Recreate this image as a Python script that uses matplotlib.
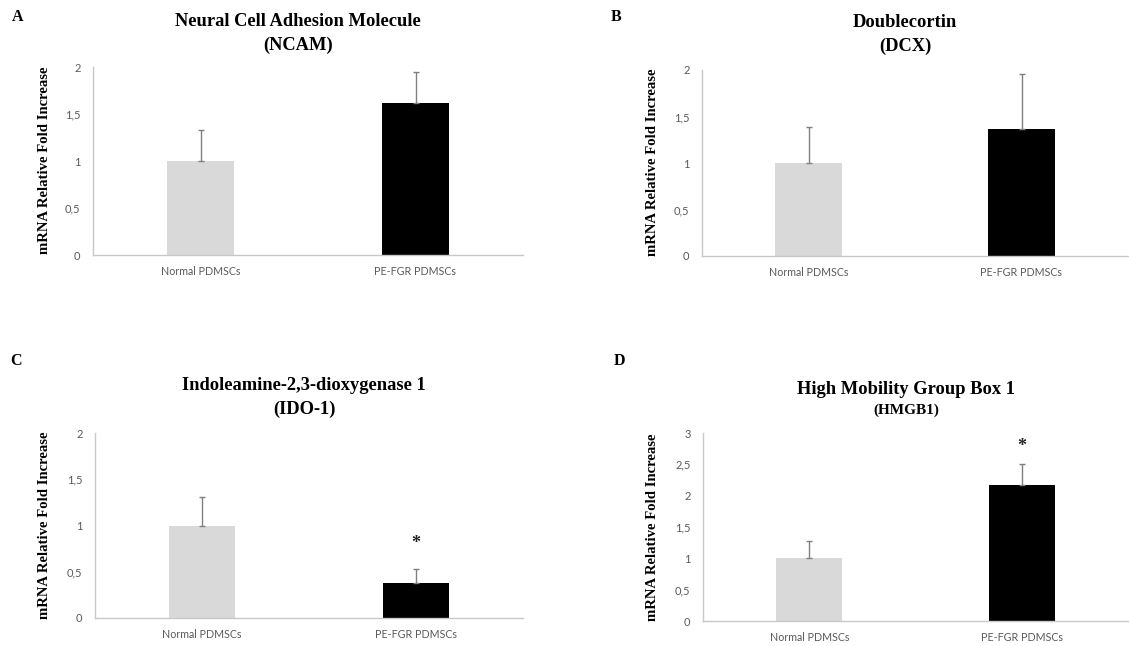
import numpy as np
import matplotlib
matplotlib.use("Agg")
import matplotlib.pyplot as plt
from matplotlib.ticker import FuncFormatter

# data
groups = ["Normal PDMSCs", "PE-FGR PDMSCs"]
ncam_mean = [1.0, 1.62]
ncam_err = [0.33, 0.33]
dcx_mean = [1.0, 1.37]
dcx_err = [0.39, 0.59]
ido_mean = [1.0, 0.38]
ido_err = [0.31, 0.15]
hmgb_mean = [1.0, 2.17]
hmgb_err = [0.28, 0.33]
ido_star = [None, 0.81]
hmgb_star = [None, 2.78]

serif = "Liberation Serif"
sans = "Lato"
W, H = 1129, 646

fig = plt.figure(figsize=(W / 100, H / 100), dpi=100)


def px(x, y):
    return x / W, 1 - y / H


def panel(rect, means, errs, ymax, stars=None):
    ax = fig.add_axes(rect)
    x = np.arange(len(groups))
    ax.bar(x, means, width=0.31, color=["#d9d9d9", "#000000"], zorder=2)
    ax.errorbar(x, means, yerr=[np.zeros(len(errs)), errs], fmt="none",
                ecolor="#808080", elinewidth=1, capsize=2.5, capthick=1, zorder=3)
    if stars is not None:
        for xi, s in zip(x, stars):
            if s is not None:
                ax.text(xi, s, "*", ha="center", va="center", fontsize=13,
                        fontweight="bold", family=serif, color="#222222")
    ax.set_xlim(-0.5, 1.5)
    ax.set_ylim(0, ymax)
    ax.set_yticks(np.arange(0, ymax + 0.01, 0.5))
    ax.yaxis.set_major_formatter(FuncFormatter(lambda v, p: f"{v:g}".replace(".", ",")))
    ax.set_xticks(x)
    ax.set_xticklabels(groups)
    for sp in ["top", "right"]:
        ax.spines[sp].set_visible(False)
    for sp in ["left", "bottom"]:
        ax.spines[sp].set_color("#c8c8c8")
        ax.spines[sp].set_linewidth(1)
    ax.tick_params(length=0, colors="#595959", labelsize=8)
    ax.tick_params(axis="y", pad=9)
    ax.tick_params(axis="x", pad=8, labelsize=7.7)
    for lab in ax.get_xticklabels() + ax.get_yticklabels():
        lab.set_family(sans)
    return ax


axA = panel([93 / W, 1 - 255 / H, 430 / W, 188 / H], ncam_mean, ncam_err, 2)
axB = panel([702 / W, 1 - 256 / H, 426 / W, 186 / H], dcx_mean, dcx_err, 2)
axC = panel([95 / W, 1 - 618 / H, 428 / W, 185 / H], ido_mean, ido_err, 2, ido_star)
axD = panel([703 / W, 1 - 621 / H, 425 / W, 188 / H], hmgb_mean, hmgb_err, 3, hmgb_star)

# titles (two lines each)
titles = [
    (298, 21, "Neural Cell Adhesion Molecule", 45, "(NCAM)", 13.3),
    (905, 22.5, "Doublecortin", 46, "(DCX)", 13.3),
    (304, 385.5, "Indoleamine-2,3-dioxygenase 1", 409.5, "(IDO-1)", 13.3),
    (906, 389, "High Mobility Group Box 1", 410, "(HMGB1)", 11),
]
for tx, y1, t1, y2, t2, fs2 in titles:
    fig.text(*px(tx, y1), t1, ha="center", va="center", family=serif,
             fontweight="bold", fontsize=13.3)
    fig.text(*px(tx, y2), t2, ha="center", va="center", family=serif,
             fontweight="bold", fontsize=fs2)

# panel letters
for lx, ly, letter in [(17.5, 17, "A"), (616, 17, "B"), (16, 361, "C"), (619, 361, "D")]:
    fig.text(*px(lx, ly), letter, ha="center", va="center", family=serif,
             fontweight="bold", fontsize=11.5)

# y labels
for lx, ly in [(45, 160), (653, 162), (45, 525), (652, 527)]:
    fig.text(*px(lx, ly), "mRNA Relative Fold Increase", ha="center", va="center",
             rotation=90, family=serif, fontweight="bold", fontsize=10.6)

fig.savefig("out.png", dpi=100, facecolor="white")
